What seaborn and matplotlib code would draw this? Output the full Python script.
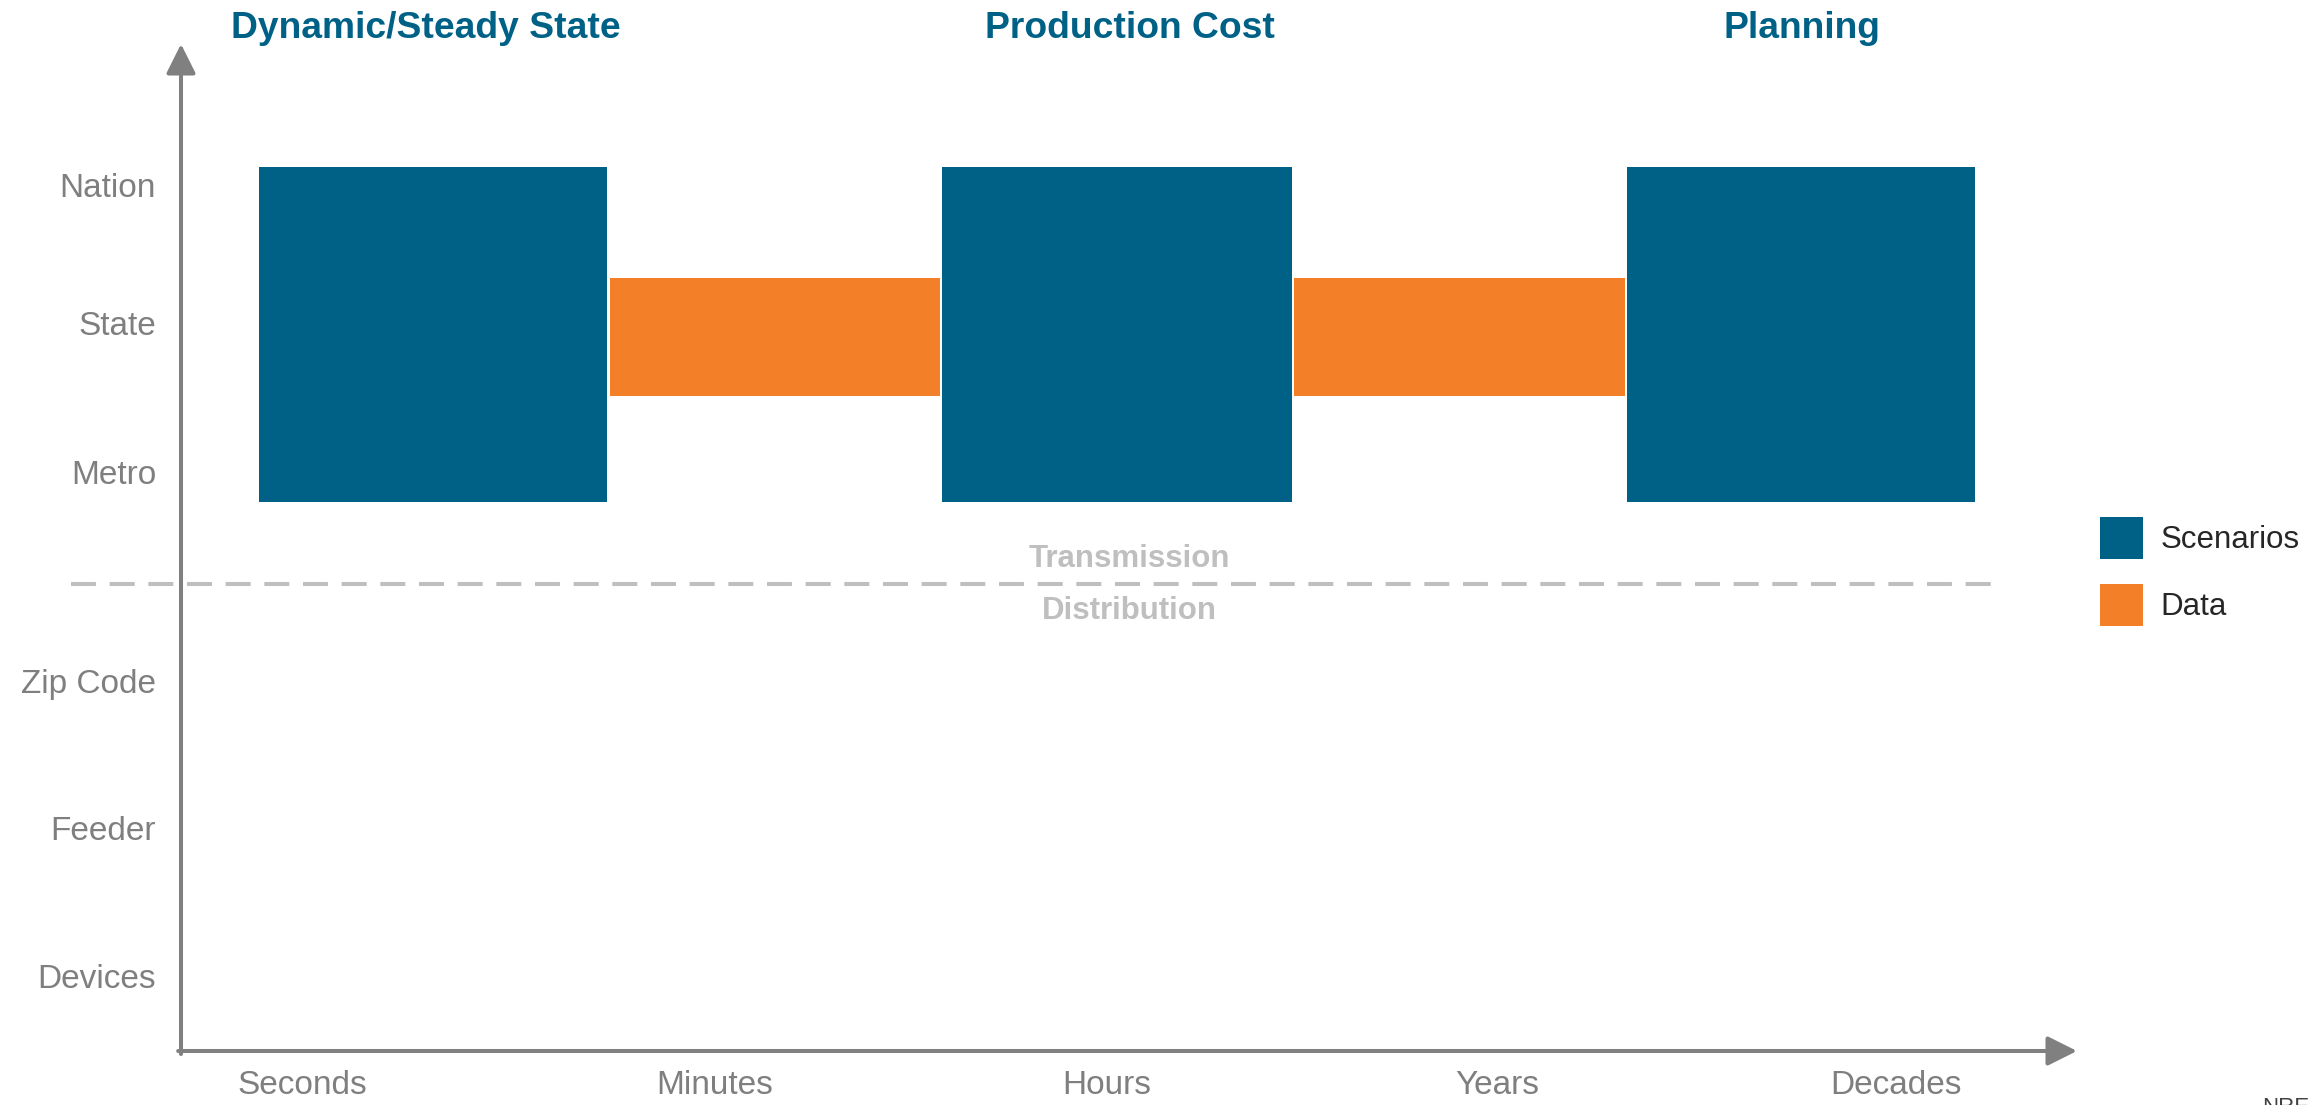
import matplotlib
matplotlib.use("Agg")
import matplotlib.pyplot as plt
from matplotlib.patches import Patch
import seaborn as sns

# Time scales along the horizontal axis
time_scales = ["Seconds", "Minutes", "Hours", "Years", "Decades"]
time_pos = [0, 1.035, 2.02, 3.0, 4.0]

# Spatial levels along the vertical axis (gap marks the T/D boundary)
spatial_levels = ["Devices", "Feeder", "Zip Code", "Metro", "State", "Nation"]
spatial_pos = [0, 1, 2, 3.42, 4.43, 5.36]
td_boundary = 2.66

# Modelling stages (Scenarios blocks)
stages = ["Dynamic/Steady State", "Production Cost", "Planning"]
scenario_start = [-0.108, 1.606, 3.325]
scenario_end = [0.765, 2.484, 4.198]
scenario_low = [3.214, 3.214, 3.214]
scenario_high = [5.485, 5.485, 5.485]

# Data exchange links between stages
data_start = [0.773, 2.489]
data_end = [1.601, 3.320]
data_low = [3.932, 3.932]
data_high = [4.732, 4.732]

BLUE = "#006187"
ORANGE = "#F37F29"
AXIS_GREY = "#808080"
LABEL_GREY = "#7F7F7F"
LIGHT_GREY = "#BFBFBF"

sns.set_theme(style="white")
plt.rcParams["font.family"] = ["Liberation Sans", "DejaVu Sans"]

W, H = 2308, 1105
fig = plt.figure(figsize=(W / 100, H / 100), dpi=100)
fig.patch.set_facecolor("white")

# axes box: left edge = vertical axis line, bottom edge = horizontal axis line
x0, x1 = 181, 2077
y0, y1 = 1051, 44
ax = fig.add_axes([x0 / W, 1 - y0 / H, (x1 - x0) / W, (y0 - y1) / H])
ax.set_facecolor("white")

# data units -> pixel scale (398.5 px per time step, 147.5 px per level)
ax.set_xlim((x0 - 302) / 398.5, (x1 - 302) / 398.5)
ax.set_ylim((976 - y0) / 147.5, (976 - y1) / 147.5)

for s in ax.spines.values():
    s.set_visible(False)

# Scenario blocks
ax.bar(scenario_start,
       [h - l for h, l in zip(scenario_high, scenario_low)],
       width=[e - s for e, s in zip(scenario_end, scenario_start)],
       bottom=scenario_low, align="edge", color=BLUE, linewidth=0)

# Data links
ax.bar(data_start,
       [h - l for h, l in zip(data_high, data_low)],
       width=[e - s for e, s in zip(data_end, data_start)],
       bottom=data_low, align="edge", color=ORANGE, linewidth=0)

# Stage titles above the blocks
title_x = [0.311, 2.077, 3.764]
for name, tx in zip(stages, title_x):
    ax.text(tx, 6.359, name, ha="center", va="baseline",
            fontsize=26.8, fontweight="bold", color=BLUE, clip_on=False)

# Transmission / Distribution boundary
ax.plot([-0.58, 4.258], [td_boundary, td_boundary], color=LIGHT_GREY,
        lw=2.9, dashes=(6.2, 3.4), clip_on=False, solid_capstyle="butt")
ax.text(2.077, 2.773, "Transmission", ha="center", va="baseline",
        fontsize=22.5, fontweight="bold", color=LIGHT_GREY)
ax.text(2.077, 2.42, "Distribution", ha="center", va="baseline",
        fontsize=22.5, fontweight="bold", color=LIGHT_GREY)

# Axis arrows
arrow = dict(arrowstyle="-|>,head_length=0.9,head_width=0.45",
             mutation_scale=20, color=AXIS_GREY, lw=2.9,
             shrinkA=0, shrinkB=0)
ax.annotate("", xy=(0, 1), xytext=(0, -0.003), xycoords="axes fraction",
            textcoords="axes fraction", arrowprops=arrow, annotation_clip=False)
ax.annotate("", xy=(1, 0), xytext=(-0.0015, 0), xycoords="axes fraction",
            textcoords="axes fraction", arrowprops=arrow, annotation_clip=False)

# Ticks
ax.set_xticks(time_pos)
ax.set_xticklabels(time_scales)
ax.set_yticks(spatial_pos)
ax.set_yticklabels(spatial_levels)
ax.tick_params(axis="both", length=0, labelsize=24, labelcolor=LABEL_GREY)
ax.tick_params(axis="y", pad=18)
ax.tick_params(axis="x", pad=14)
ax.grid(False)

# Legend
handles = [Patch(facecolor=BLUE, edgecolor="none", label="Scenarios"),
           Patch(facecolor=ORANGE, edgecolor="none", label="Data")]
fig.legend(handles=handles, loc="upper left",
           bbox_to_anchor=(2100 / W, 1 - 517 / H), frameon=False,
           fontsize=22.5, handlelength=1.38, handleheight=1.69,
           handletextpad=0.56, labelspacing=0.8, borderpad=0,
           borderaxespad=0)

# Footer mark (cut at the bottom edge)
fig.text(2262 / W, 1 - 1097 / H, "NREL", ha="left", va="top",
         fontsize=16, color="#404040")

fig.savefig("out.png", dpi=100, facecolor="white")
